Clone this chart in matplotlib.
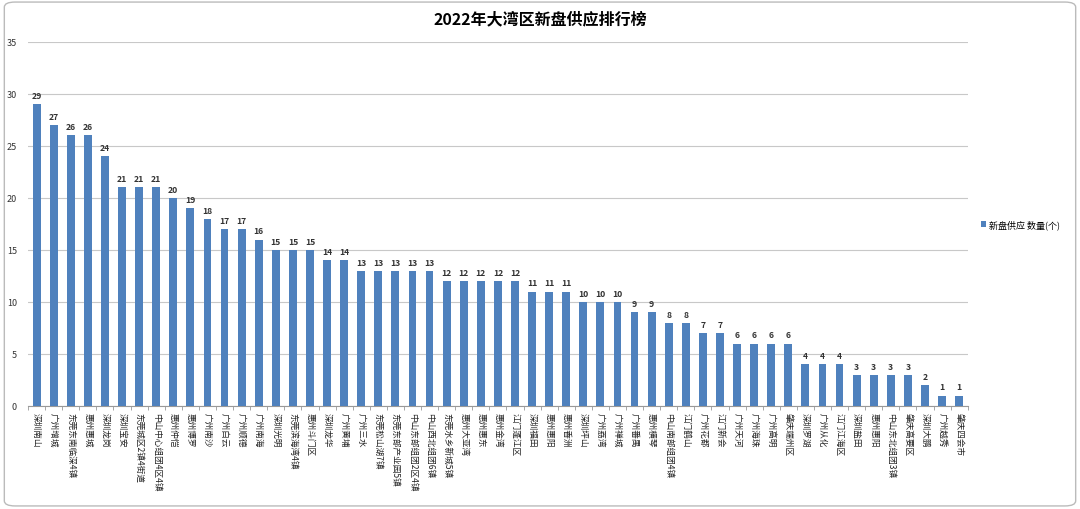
import matplotlib
matplotlib.use('Agg')
import matplotlib.pyplot as plt
from matplotlib.patches import FancyBboxPatch
import numpy as np

plt.rcParams['font.family'] = ['Noto Sans CJK SC', 'DejaVu Sans']

areas = ['深圳南山', '广州增城', '东莞东南临深4镇', '惠州惠城', '深圳龙岗', '深圳宝安',
         '东莞城区2镇4街道', '中山中心组团4区4镇', '惠州仲恺', '惠州博罗', '广州南沙',
         '广州白云', '广州顺德', '广州南海', '深圳光明', '东莞滨海湾4镇', '惠州斗门区',
         '深圳龙华', '广州黄埔', '广州三水', '东莞松山湖7镇', '东莞东部产业园5镇',
         '中山东部组团2区4镇', '中山西北组团6镇', '东莞水乡新城5镇', '惠州大亚湾',
         '惠州惠东', '惠州金湾', '江门蓬江区', '深圳福田', '惠州惠阳', '惠州香洲',
         '深圳坪山', '广州荔湾', '广州禅城', '广州番禺', '惠州横琴', '中山南部组团4镇',
         '江门鹤山', '广州花都', '江门新会', '广州天河', '广州海珠', '广州高明',
         '肇庆端州区', '深圳罗湖', '广州从化', '江门江海区', '深圳盐田', '惠州惠阳',
         '中山东北组团3镇', '肇庆高要区', '深圳大鹏', '广州越秀', '肇庆四会市']
supply = [29, 27, 26, 26, 24, 21, 21, 21, 20, 19, 18, 17, 17, 16, 15, 15, 15, 14, 14,
          13, 13, 13, 13, 13, 12, 12, 12, 12, 12, 11, 11, 11, 10, 10, 10, 9, 9, 8, 8,
          7, 7, 6, 6, 6, 6, 4, 4, 4, 3, 3, 3, 3, 2, 1, 1]
yticks = [0, 5, 10, 15, 20, 25, 30, 35]

fig = plt.figure(figsize=(10.8, 5.1), dpi=100)
ax = fig.add_axes([0.026, 0.202, 0.870, 0.714])

x = np.arange(len(areas))
bars = ax.bar(x, supply, width=0.46, color='#4F81BD', label='新盘供应 数量(个)', zorder=3)

for xi, v in zip(x, supply):
    ax.text(xi, v + 0.4, str(v), ha='center', va='bottom', fontsize=6.2,
            color='#333333', fontweight='semibold')

ax.set_xlim(-0.5, len(areas) - 0.5)
ax.set_ylim(0, 35)
ax.set_yticks(yticks)
ax.tick_params(axis='y', labelsize=6.5, length=0, pad=8, colors='#333333')
ax.yaxis.grid(True, color='#C8C8C8', linewidth=0.8, zorder=0)

ax.set_xticks(x)
ax.set_xticklabels(areas, rotation=-90, fontsize=6.2, va='top', ha='center',
                   color='#222222')
ax.tick_params(axis='x', length=0, pad=4)
ax.set_xticks(np.arange(-0.5, len(areas), 1), minor=True)
ax.tick_params(axis='x', which='minor', length=3, color='#999999')

for s in ['top', 'right', 'left']:
    ax.spines[s].set_visible(False)
ax.spines['bottom'].set_color('#999999')

ax.legend(loc='center left', bbox_to_anchor=(1.005, 0.5), frameon=False,
          fontsize=6.5, handlelength=0.6, handleheight=0.6, handletextpad=0.3)

fig.text(0.5, 0.962, '2022年大湾区新盘供应排行榜', ha='center', va='center',
         fontsize=11.5, fontweight='bold')

border = FancyBboxPatch((0.004, 0.006), 0.992, 0.988, boxstyle='round,pad=0,rounding_size=0.01',
                        transform=fig.transFigure, fill=False, edgecolor='#BBBBBB',
                        linewidth=1)
fig.patches.append(border)

plt.savefig('out.png', dpi=100)
plt.close()
